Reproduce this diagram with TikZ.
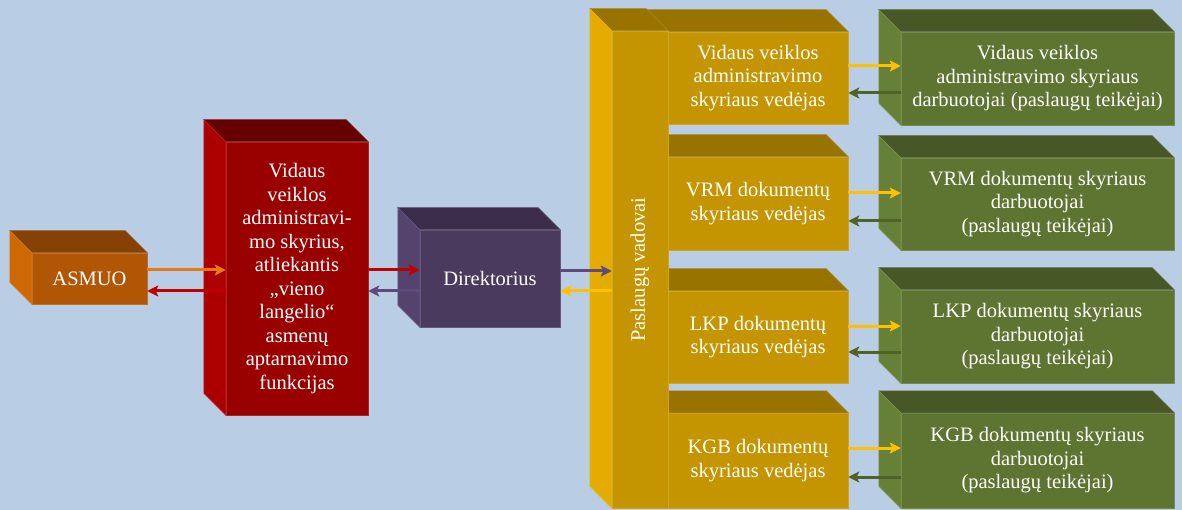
\documentclass[tikz,border=0pt]{standalone}
\usepackage{fontspec}
\setmainfont{Liberation Serif}
\usetikzlibrary{arrows.meta,calc}
\definecolor{bg}{HTML}{B9CDE5}
% ASMUO
\definecolor{aF}{RGB}{177,86,5}
\definecolor{aT}{RGB}{134,66,5}
\definecolor{aS}{RGB}{206,104,5}
% red
\definecolor{rF}{RGB}{153,0,0}
\definecolor{rT}{RGB}{102,0,0}
\definecolor{rS}{RGB}{172,0,0}
% direktorius
\definecolor{dF}{RGB}{73,58,94}
\definecolor{dT}{RGB}{59,45,75}
\definecolor{dS}{RGB}{85,67,110}
% yellow
\definecolor{yF}{RGB}{196,149,0}
\definecolor{yT}{RGB}{153,115,0}
\definecolor{yS}{RGB}{228,172,0}
% green
\definecolor{gF}{RGB}{94,116,49}
\definecolor{gT}{RGB}{71,87,38}
\definecolor{gS}{RGB}{103,128,55}
% arrows
\definecolor{arO}{RGB}{232,122,20}
\definecolor{arR}{RGB}{192,0,0}
\definecolor{arP}{RGB}{96,74,123}
\definecolor{arY}{RGB}{255,192,0}
\definecolor{arG}{RGB}{79,98,40}

\tikzset{
  front/.style={rectangle, inner sep=0pt, text=white, align=center,
    font=\fontsize{20.5}{23.5}\selectfont, fill=#1, draw=#1!85!white, line width=0.5pt},
  arr/.style={line width=3pt, draw=#1, -{Stealth[length=11pt,width=11pt,inset=2.5pt]}},
}

% \tdbox{name}{x1}{y1}{x2}{y2}{front colour}{text}
\newcommand\tdbox[7]{%
  \node[front=#6, minimum width={(#4-#2)*1pt}, minimum height={(#5-#3)*1pt}]
    (#1) at ({(#2+#4)/2},{(#3+#5)/2}) {#7};}
% \tdfaces{name}{top colour}{side colour}
\newcommand\tdfaces[3]{%
  \filldraw[fill=#2, draw=#2!85!white, line width=0.5pt] (#1.north west) -- ++(-22pt,22pt)
     -- ([shift={(-22pt,22pt)}]#1.north east) -- (#1.north east) -- cycle;
  \filldraw[fill=#3, draw=#3!85!white, line width=0.5pt] (#1.north west) -- ++(-22pt,22pt)
     -- ([shift={(-22pt,22pt)}]#1.south west) -- (#1.south west) -- cycle;}

\begin{document}
\begin{tikzpicture}[x=1pt,y=-1pt]
\useasboundingbox (0,0) rectangle (1182,510);
\fill[bg] (0,0) rectangle (1182,510);

% ASMUO
\tdbox{asmuo}{32}{253}{147}{304}{aF}{ASMUO}
\tdfaces{asmuo}{aT}{aS}

% red box
\tdbox{skyrius}{226}{142}{368}{415}{rF}{Vidaus\\veiklos\\administravi-\\mo skyrius,\\atliekantis\\„vieno\\langelio“\\asmenų\\aptarnavimo\\funkcijas}
\tdfaces{skyrius}{rT}{rS}

% Direktorius
\tdbox{dir}{420}{230}{560}{327}{dF}{Direktorius}
\tdfaces{dir}{dT}{dS}

% yellow heads
\tdbox{y1}{668}{32}{848}{124}{yF}{Vidaus veiklos\\administravimo\\skyriaus vedėjas}
\tdfaces{y1}{yT}{yS}
\tdbox{y2}{668}{157}{848}{250}{yF}{VRM dokumentų\\skyriaus vedėjas}
\tdfaces{y2}{yT}{yS}
\tdbox{y3}{668}{291}{848}{383}{yF}{LKP dokumentų\\skyriaus vedėjas}
\tdfaces{y3}{yT}{yS}
\tdbox{y4}{668}{413}{848}{508}{yF}{KGB dokumentų\\skyriaus vedėjas}
\tdfaces{y4}{yT}{yS}

% Paslaugu vadovai bar
\tdbox{bar}{612}{31}{668}{508}{yF}{\rotatebox{90}{Paslaugų vadovai}}
\tdfaces{bar}{yT}{yS}

% green boxes
\tdbox{g1}{901}{32}{1174}{125}{gF}{Vidaus veiklos\\administravimo skyriaus\\darbuotojai (paslaugų teikėjai)}
\tdfaces{g1}{gT}{gS}
\tdbox{g2}{901}{158}{1174}{250}{gF}{VRM dokumentų skyriaus\\darbuotojai\\(paslaugų teikėjai)}
\tdfaces{g2}{gT}{gS}
\tdbox{g3}{901}{290}{1174}{383}{gF}{LKP dokumentų skyriaus\\darbuotojai\\(paslaugų teikėjai)}
\tdfaces{g3}{gT}{gS}
\tdbox{g4}{901}{413}{1174}{508}{gF}{KGB dokumentų skyriaus\\darbuotojai\\(paslaugų teikėjai)}
\tdfaces{g4}{gT}{gS}

% connectors
\draw[arr=arO] (asmuo.east |- 0,270) -- (skyrius.west |- 0,270);
\draw[arr=arR] (skyrius.west |- 0,291) -- (asmuo.east |- 0,291);
\draw[arr=arR] (skyrius.east |- 0,270) -- (dir.west |- 0,270);
\draw[arr=arP] (dir.west |- 0,291) -- (skyrius.east |- 0,291);
\draw[arr=arP] (dir.east |- 0,271) -- (bar.west |- 0,271);
\draw[arr=arY] (bar.west |- 0,291) -- (dir.east |- 0,291);

\draw[arr=arY] (y1.east |- 0,66) -- (g1.west |- 0,66);
\draw[arr=arG] (g1.west |- 0,93) -- (y1.east |- 0,93);
\draw[arr=arY] (y2.east |- 0,193) -- (g2.west |- 0,193);
\draw[arr=arG] (g2.west |- 0,221) -- (y2.east |- 0,221);
\draw[arr=arY] (y3.east |- 0,326) -- (g3.west |- 0,326);
\draw[arr=arG] (g3.west |- 0,352) -- (y3.east |- 0,352);
\draw[arr=arY] (y4.east |- 0,448) -- (g4.west |- 0,448);
\draw[arr=arG] (g4.west |- 0,477) -- (y4.east |- 0,477);
\end{tikzpicture}
\end{document}
